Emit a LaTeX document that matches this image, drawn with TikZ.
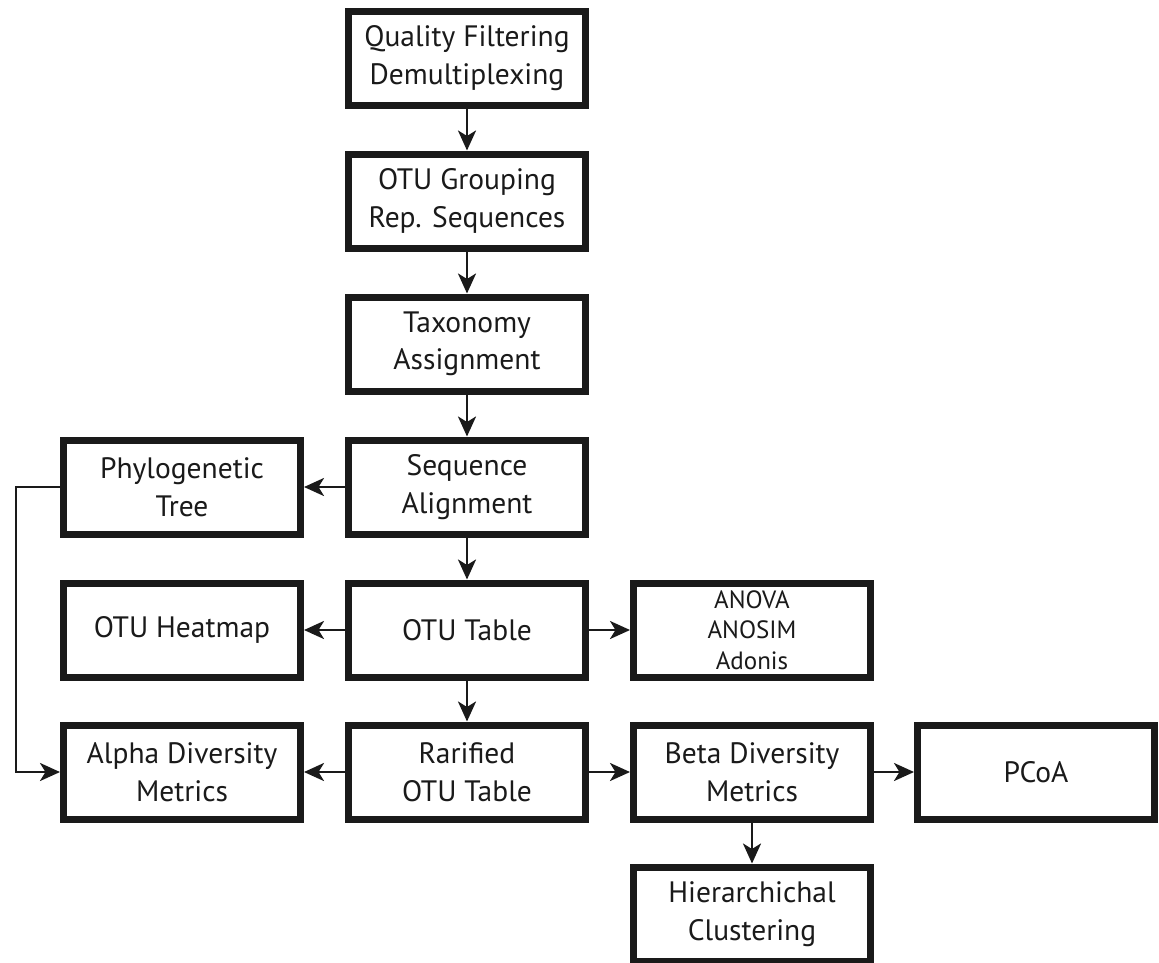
\documentclass[tikz,border=0pt]{standalone}
\usepackage{fontspec}
\setmainfont{PT Sans}
\usetikzlibrary{arrows.meta}
\definecolor{ink}{HTML}{1A1A1A}
\tikzset{
  box/.style={draw=ink, line width=7pt, fill=white, minimum width=237pt, minimum height=94pt,
    inner sep=0pt, outer sep=3.5pt, align=center, text=ink, font=\fontsize{29.5}{37.5}\selectfont},
  smallbox/.style={box, font=\fontsize{25}{30.5}\selectfont},
  conn/.style={draw=ink, line width=2.8pt, -{Stealth[length=20pt,width=18pt,inset=5.5pt]}},
}
\begin{document}
\begin{tikzpicture}[x=1pt,y=1pt]
\useasboundingbox[fill=white] (0,0) rectangle (1159,-962);
\node[box] (qf)   at (467,-58)  {Quality Filtering\\Demultiplexing};
\node[box] (otug) at (467,-201) {OTU Grouping\\Rep. Sequences};
\node[box] (tax)  at (467,-344) {Taxonomy\\Assignment};
\node[box] (seq)  at (467,-487) {Sequence\\Alignment};
\node[box] (phy)  at (182,-487) {Phylogenetic\\Tree};
\node[box] (heat) at (182,-630) {OTU Heatmap};
\node[box] (otut) at (467,-630) {OTU Table};
\node[smallbox] (anova) at (752,-630) {ANOVA\\ANOSIM\\Adonis};
\node[box] (alpha) at (182,-772) {Alpha Diversity\\Metrics};
\node[box] (rar)  at (467,-772) {Rarified\\OTU Table};
\node[box] (beta) at (752,-772) {Beta Diversity\\Metrics};
\node[box] (pcoa) at (1036,-772) {PCoA};
\node[box] (hier) at (752,-914) {Hierarchichal\\Clustering};
\coordinate (c1) at (16,-487);
\coordinate (c2) at (16,-772);
\draw[conn] (qf) -- (otug);
\draw[conn] (otug) -- (tax);
\draw[conn] (tax) -- (seq);
\draw[conn] (seq) -- (otut);
\draw[conn] (otut) -- (rar);
\draw[conn] (seq) -- (phy);
\draw[conn] (otut) -- (heat);
\draw[conn] (otut) -- (anova);
\draw[conn] (rar) -- (alpha);
\draw[conn] (rar) -- (beta);
\draw[conn] (beta) -- (pcoa);
\draw[conn] (beta) -- (hier);
\draw[conn] (phy.west) -- (c1) -- (c2) -- (alpha.west);
\end{tikzpicture}
\end{document}
